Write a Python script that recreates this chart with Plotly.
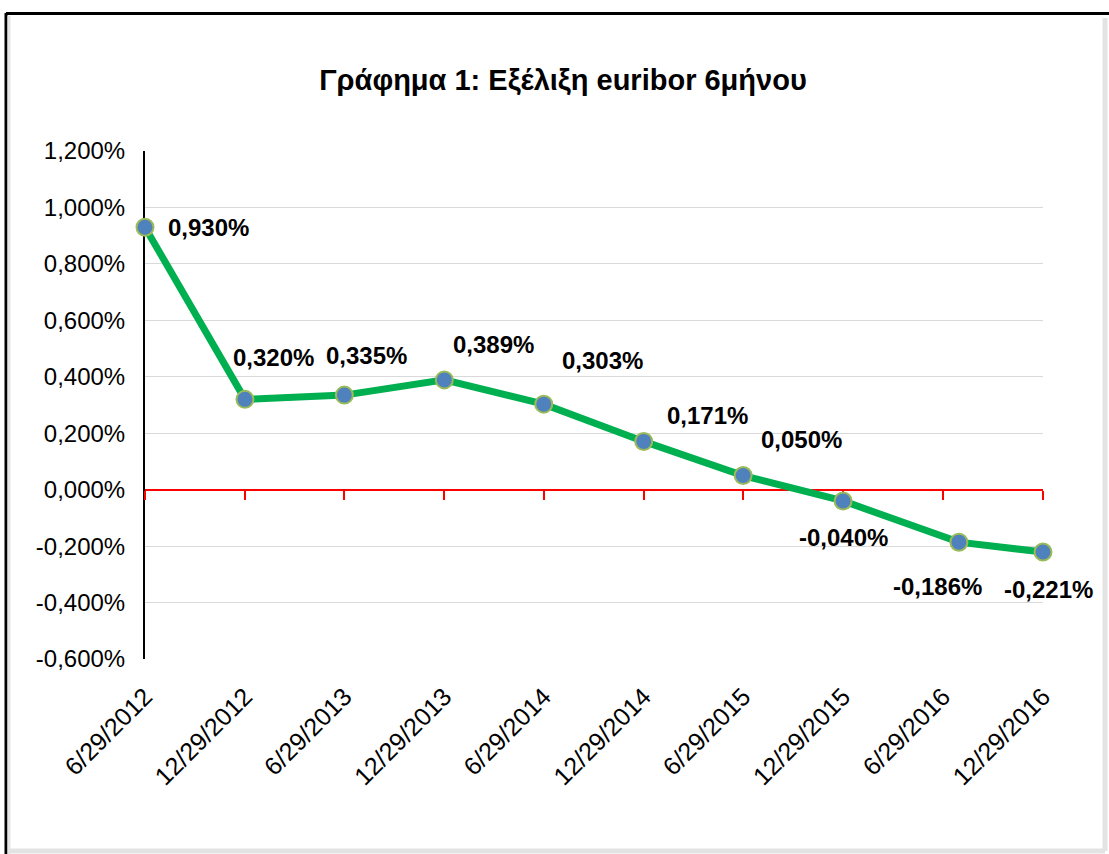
import plotly.graph_objects as go

# ---- data ----
dates = ["2012-06-29", "2012-12-29", "2013-06-29", "2013-12-29", "2014-06-29",
         "2014-12-29", "2015-06-29", "2015-12-29", "2016-07-28", "2016-12-29"]
euribor_6m = [0.930, 0.320, 0.335, 0.389, 0.303, 0.171, 0.050, -0.040, -0.186, -0.221]

tick_dates = ["2012-06-29", "2012-12-29", "2013-06-29", "2013-12-29", "2014-06-29",
              "2014-12-29", "2015-06-29", "2015-12-29", "2016-06-29", "2016-12-29"]
tick_labels = ["6/29/2012", "12/29/2012", "6/29/2013", "12/29/2013", "6/29/2014",
               "12/29/2014", "6/29/2015", "12/29/2015", "6/29/2016", "12/29/2016"]
y_ticks = [-0.6, -0.4, -0.2, 0.0, 0.2, 0.4, 0.6, 0.8, 1.0, 1.2]
y_tick_labels = ["-0,600%", "-0,400%", "-0,200%", "0,000%", "0,200%",
                 "0,400%", "0,600%", "0,800%", "1,000%", "1,200%"]
title_text = "Γράφημα 1: Εξέλιξη euribor 6μήνου"

# label offsets (pixels: right, up) — styling
label_offsets = [(63, 0), (29, 42), (22, 40), (49, 35), (59, 44),
                 (64, 26), (58, 36), (0, -37), (-21, -44), (5, -37)]

# ---- layout geometry ----
W, H = 1109, 854
L, R, T, B = 145, 66, 151, 195
pw, ph = W - L - R, H - T - B


def px_x(px):
    return (px - L) / pw


def px_y(py):
    return (H - B - py) / ph


FONT = "Liberation Sans, Arial, sans-serif"
x_range = [tick_dates[0], tick_dates[-1]]
y_range = [y_ticks[0], y_ticks[-1]]

fig = go.Figure()

fig.add_trace(go.Scatter(
    x=dates, y=euribor_6m, mode="lines+markers",
    line=dict(color="#00b050", width=7),
    marker=dict(size=17, color="#4f81bd", line=dict(color="#9bbb59", width=2)),
    cliponaxis=False, showlegend=False, hoverinfo="x+y",
))
# dummy trace to host the zero-crossing axis
fig.add_trace(go.Scatter(
    x=dates, y=euribor_6m, xaxis="x2", mode="lines",
    line=dict(width=0, color="rgba(0,0,0,0)"), showlegend=False, hoverinfo="skip",
))

annotations = []
for d, v, (dx, dy) in zip(dates, euribor_6m, label_offsets):
    annotations.append(dict(
        x=d, y=v, xref="x", yref="y", text="<b>" + f"{v:.3f}%".replace(".", ",") + "</b>",
        showarrow=False, xshift=dx, yshift=dy,
        font=dict(family=FONT, size=24, color="#000000"),
    ))

shapes = [
    # frame: top and left black, right and bottom soft shadow
    dict(type="line", xref="paper", yref="paper", x0=px_x(6), x1=px_x(W), y0=px_y(13.5), y1=px_y(13.5),
         line=dict(color="#000000", width=3)),
    dict(type="line", xref="paper", yref="paper", x0=px_x(6), x1=px_x(6), y0=px_y(13), y1=px_y(H),
         line=dict(color="#000000", width=3)),
    dict(type="line", xref="paper", yref="paper", x0=px_x(9), x1=px_x(9), y0=px_y(16), y1=px_y(H),
         line=dict(color="#e6e6e6", width=3)),
    dict(type="line", xref="paper", yref="paper", x0=px_x(1105), x1=px_x(1105), y0=px_y(18), y1=px_y(851),
         line=dict(color="#e3e3e3", width=5)),
    dict(type="line", xref="paper", yref="paper", x0=px_x(9), x1=px_x(1105), y0=px_y(851), y1=px_y(851),
         line=dict(color="#e3e3e3", width=5)),
]

fig.update_layout(
    width=W, height=H,
    margin=dict(l=L, r=R, t=T, b=B, pad=0),
    paper_bgcolor="white", plot_bgcolor="white",
    separators=",.",
    title=dict(text=f"<b>{title_text}</b>", x=563 / W, xref="container", xanchor="center",
               y=1 - 80 / H, yref="container", yanchor="middle",
               font=dict(family=FONT, size=29, color="#000000")),
    xaxis=dict(
        type="date", range=x_range, tickmode="array", tickvals=tick_dates, ticktext=tick_labels,
        tickangle=-45, showgrid=False, zeroline=False, showline=False,
        ticks="outside", ticklen=12, tickcolor="rgba(0,0,0,0)",
        tickfont=dict(family=FONT, size=25, color="#000000"),
    ),
    xaxis2=dict(
        type="date", range=x_range, overlaying="x", anchor="free",
        position=(0 - y_range[0]) / (y_range[1] - y_range[0]),
        tickmode="array", tickvals=tick_dates, showticklabels=False,
        showgrid=False, zeroline=False, showline=True, linecolor="#ff0000", linewidth=2,
        ticks="outside", ticklen=9, tickwidth=2, tickcolor="#ff0000", layer="below traces",
    ),
    yaxis=dict(
        range=y_range, tickmode="array", tickvals=y_ticks, ticktext=y_tick_labels,
        showgrid=True, gridcolor="#d9d9d9", gridwidth=1, zeroline=False,
        showline=True, linecolor="#000000", linewidth=2, layer="below traces",
        ticks="outside", ticklen=13, tickcolor="rgba(0,0,0,0)",
        tickfont=dict(family=FONT, size=24, color="#000000"),
    ),
    annotations=annotations,
    shapes=shapes,
)

fig.write_html("out.html", config={"displayModeBar": False},
               post_script="document.body.style.margin='0';document.body.style.overflow='hidden';")
